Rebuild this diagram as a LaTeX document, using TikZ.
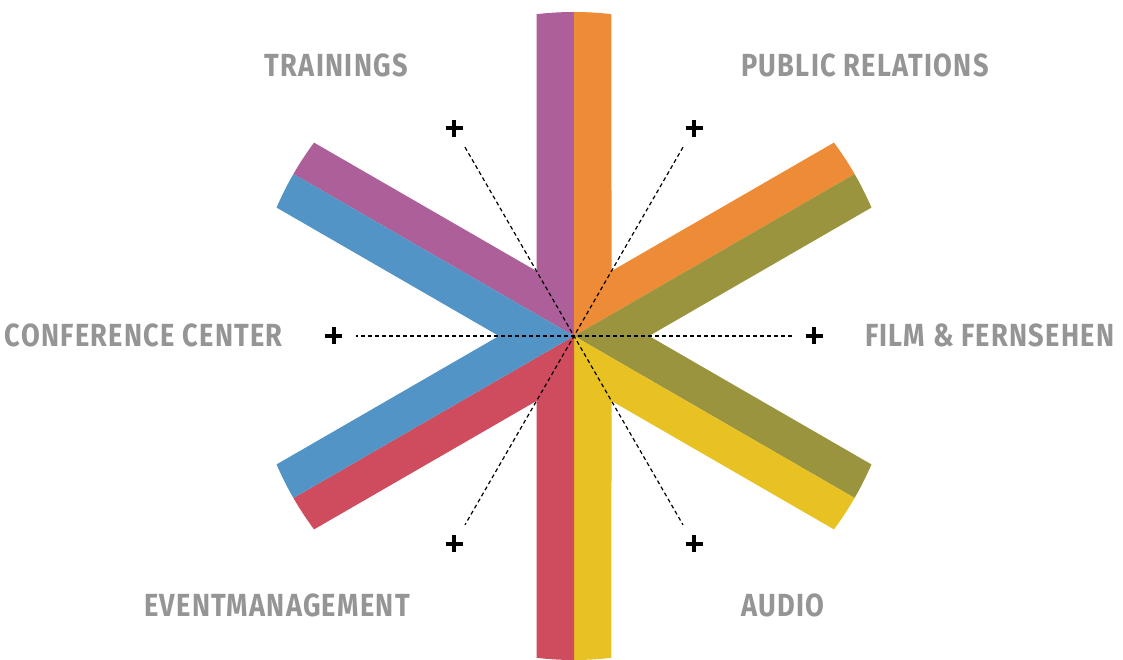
\documentclass[tikz,border=0pt]{standalone}
\usepackage{fontspec}
\newfontfamily\labfont{Fira Sans}[FakeStretch=0.85,LetterSpace=4]
\usetikzlibrary{calc}
\definecolor{cpurple}{HTML}{AD5F99}
\definecolor{corange}{HTML}{EE8B36}
\definecolor{colive}{HTML}{9A943F}
\definecolor{cyellow}{HTML}{E7C222}
\definecolor{cred}{HTML}{CF4B5E}
\definecolor{cblue}{HTML}{5294C5}
\definecolor{labgray}{HTML}{959595}
\begin{document}
\begin{tikzpicture}[x=1pt,y=1pt,
  lab/.style={text=labgray, font=\labfont\bfseries\fontsize{32}{32}\selectfont, inner sep=0pt},
  guide/.style={dash pattern=on 4pt off 3pt, line width=1.2pt, black},
  plussign/.style={line width=4pt, black}]
\useasboundingbox (-574,-324) rectangle (549,336);
\def\R{324pt}
\def\dd{6.646}
% colour sectors
\foreach \a/\c in {90/cpurple,30/corange,-30/colive,-90/cyellow,-150/cred,150/cblue}{
  \pgfmathsetmacro\aa{\a+\dd}
  \pgfmathsetmacro\am{\a+30}
  \pgfmathsetmacro\bb{\a+60-\dd}
  \pgfmathsetmacro\b{\a+60}
  \fill[\c] (0,0) -- (\a:\R) arc[start angle=\a, end angle=\aa, radius=\R]
    -- (\am:75pt) -- (\bb:\R) arc[start angle=\bb, end angle=\b, radius=\R] -- cycle;
}
% guide coordinates
\coordinate (c) at (0,0);
\foreach \i in {0,60,120,180,240,300}{
  \coordinate (g\i) at (\i:218pt);
  \coordinate (p\i) at (\i:240pt);
}
\draw[guide] (g0) -- (g180);
\draw[guide] (g60) -- (g240);
\draw[guide] (g120) -- (g300);
\foreach \i in {0,60,120,180,240,300}{
  \draw[plussign] ($(p\i)+(-8.5,0)$) -- ($(p\i)+(8.5,0)$);
  \draw[plussign] ($(p\i)+(0,-8.5)$) -- ($(p\i)+(0,8.5)$);
}
% labels
\node[lab, anchor=base east] (trainings) at (-166,259) {TRAININGS};
\node[lab, anchor=base west] (pr) at (167,259) {PUBLIC RELATIONS};
\node[lab, anchor=base east] (conf) at (-291,-11) {CONFERENCE CENTER};
\node[lab, anchor=base west] (film) at (291,-11) {FILM \& FERNSEHEN};
\node[lab, anchor=base east] (event) at (-164,-280) {EVENTMANAGEMENT};
\node[lab, anchor=base west] (audio) at (167,-280) {AUDIO};
\end{tikzpicture}
\end{document}
